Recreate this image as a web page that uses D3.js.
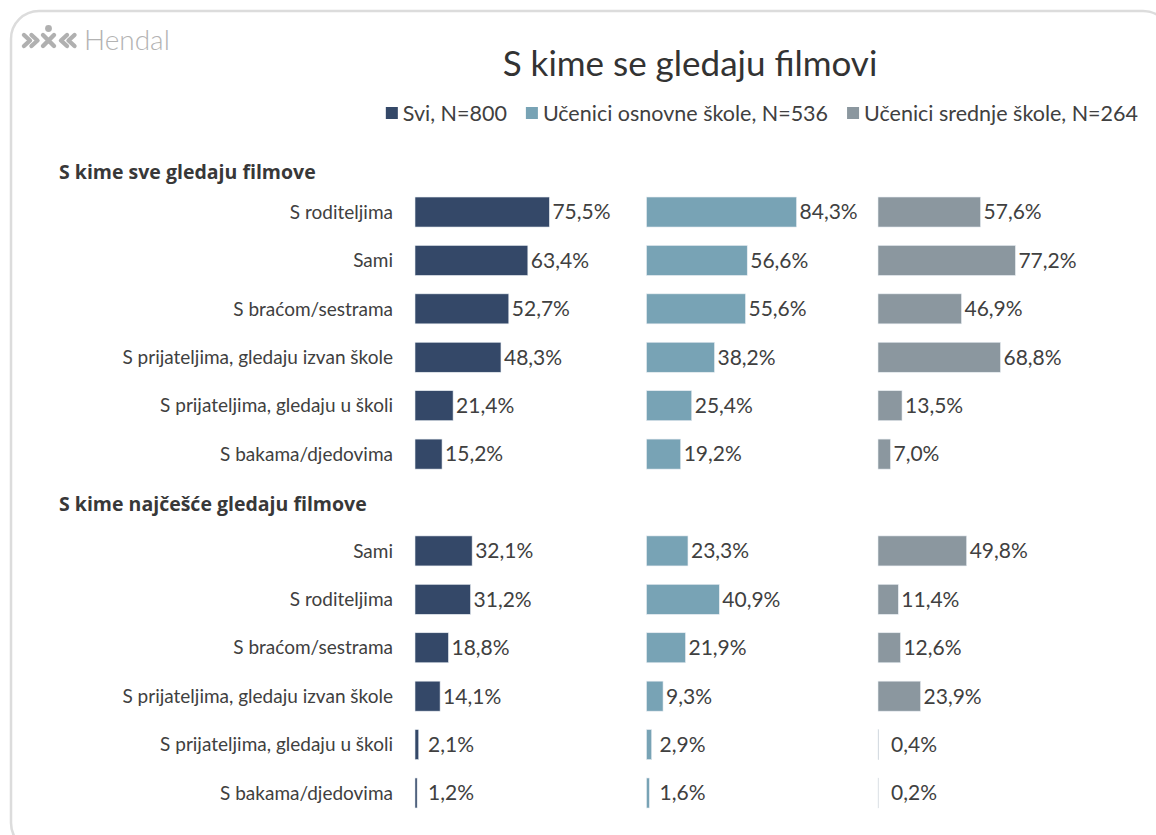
<!DOCTYPE html>
<head>
  <meta charset="utf-8">
  <script src="https://d3js.org/d3.v7.min.js"></script>
  <style>
    body { margin:0; background:#fff; }
    text { font-family: "Lato", sans-serif; }
  </style>
</head>
<body>
<script>

  // ---- data ----
  var seriesNames = ["Svi, N=800", "Učenici osnovne škole, N=536", "Učenici srednje škole, N=264"];
  var seriesColors = ["#344868", "#78a3b5", "#8b979f"];

  var sectionTitles = ["S kime sve gledaju filmove", "S kime najčešće gledaju filmove"];

  var catsAll = ["S roditeljima", "Sami", "S braćom/sestrama", "S prijateljima, gledaju izvan škole",
                 "S prijateljima, gledaju u školi", "S bakama/djedovima"];
  var svi1     = [75.5, 63.4, 52.7, 48.3, 21.4, 15.2];
  var osnovna1 = [84.3, 56.6, 55.6, 38.2, 25.4, 19.2];
  var srednja1 = [57.6, 77.2, 46.9, 68.8, 13.5, 7.0];

  var catsMost = ["Sami", "S roditeljima", "S braćom/sestrama", "S prijateljima, gledaju izvan škole",
                  "S prijateljima, gledaju u školi", "S bakama/djedovima"];
  var svi2     = [32.1, 31.2, 18.8, 14.1, 2.1, 1.2];
  var osnovna2 = [23.3, 40.9, 21.9, 9.3, 2.9, 1.6];
  var srednja2 = [49.8, 11.4, 12.6, 23.9, 0.4, 0.2];

  var width = 1156, height = 835;

  var svg = d3.select("body").append("svg")
    .attr("width", width)
    .attr("height", height);

  // frame
  svg.append("rect")
    .attr("x", 11).attr("y", 11)
    .attr("width", 1160).attr("height", 840)
    .attr("rx", 28).attr("ry", 28)
    .attr("fill", "none")
    .attr("stroke", "#dcdcdc")
    .attr("stroke-width", 2.5)

  // logo
  var logo = svg.append("g").attr("fill", "none").attr("stroke", "#b0b0b0")
    .attr("stroke-width", 4.4).attr("stroke-linecap", "round").attr("stroke-linejoin", "round")
  logo.append("path").attr("d", "M24,35 L30,40.5 L24,46 M31.5,35 L37.5,40.5 L31.5,46")
  logo.append("path").attr("d", "M43,35 L54,46 M54,35 L43,46")
  logo.append("path").attr("d", "M67,35 L61,40.5 L67,46 M74.5,35 L68.5,40.5 L74.5,46")
  svg.append("circle").attr("cx", 48.5).attr("cy", 28.5).attr("r", 3.4).attr("fill", "#b0b0b0")
  svg.append("text")
    .attr("x", 84).attr("y", 50)
    .attr("fill", "#b3b3b3")
    .style("font-size", "28px")
    .style("font-weight", 300)
    .text("Hendal")

  // title
  svg.append("text")
    .attr("x", 690).attr("y", 76)
    .attr("text-anchor", "middle")
    .attr("fill", "#333")
    .style("font-size", "35px")
    .text("S kime se gledaju filmovi")

  // legend, right aligned
  var legend = svg.append("g").attr("class", "legend")
  var lx = 1138
  for (var i = seriesNames.length - 1; i >= 0; i--) {
    var t = legend.append("text")
      .attr("y", 121)
      .attr("fill", "#404040")
      .style("font-size", "21.5px")
      .text(seriesNames[i])
    var w = t.node().getComputedTextLength()
    t.attr("x", lx - w)
    legend.append("rect")
      .attr("x", lx - w - 17).attr("y", 107)
      .attr("width", 12).attr("height", 12)
      .attr("fill", seriesColors[i])
    lx = lx - w - 17 - 19
  }

  // rows: header, 6 cats, header, 6 cats
  var rows = [];
  [[catsAll, [svi1, osnovna1, srednja1]], [catsMost, [svi2, osnovna2, srednja2]]].forEach(function(sec, s){
    rows.push({type: "header", label: sectionTitles[s], slot: rows.length, section: s})
    sec[0].forEach(function(c, j){
      rows.push({type: "row", label: c, slot: rows.length, values: sec[1].map(function(a){ return a[j] })})
    })
  })

  var y = d3.scaleBand()
    .domain(d3.range(rows.length))
    .range([139.4, 817.2])
    .paddingInner(0.38)
    .paddingOuter(0.19)

  var panel = d3.scaleBand()
    .domain(d3.range(seriesNames.length))
    .range([415, 1109.5])

  var x = d3.scaleLinear()
    .domain([0, 100])
    .range([0, 178])

  var fmt = function(v){ return d3.format(".1f")(v).replace(".", ",") + "%" }

  // section headers
  svg.selectAll(".header")
    .data(rows.filter(function(d){ return d.type == "header" }))
    .enter()
    .append("text")
    .attr("class", "header")
    .attr("x", 59)
    .attr("y", function(d){ return y(d.slot) + y.bandwidth()/2 + (d.section == 0 ? 15 : 8) })
    .attr("fill", "#383838")
    .style("font-family", "'Open Sans', sans-serif")
    .style("font-size", "19.5px")
    .style("font-weight", "bold")
    .text(function(d){ return d.label })

  var catRows = rows.filter(function(d){ return d.type == "row" })

  // category labels
  svg.selectAll(".cat")
    .data(catRows)
    .enter()
    .append("text")
    .attr("class", "cat")
    .attr("x", 393)
    .attr("y", function(d){ return y(d.slot) + y.bandwidth()/2 })
    .attr("dy", "0.35em")
    .attr("text-anchor", "end")
    .attr("fill", "#404040")
    .style("font-size", "19px")
    .text(function(d){ return d.label })

  var cells = [];
  catRows.forEach(function(r){
    r.values.forEach(function(v, k){ cells.push({slot: r.slot, s: k, v: v}) })
  })

  // value labels
  svg.selectAll(".val")
    .data(cells)
    .enter()
    .append("text")
    .attr("class", "val")
    .attr("x", function(d){ return panel(d.s) + Math.max(x(d.v) + 3, 13) })
    .attr("y", function(d){ return y(d.slot) + y.bandwidth()/2 })
    .attr("dy", "0.35em")
    .attr("fill", "#404040")
    .style("font-size", "21px")
    .text(function(d){ return fmt(d.v) })

  // bars
  svg.selectAll(".bar")
    .data(cells)
    .enter()
    .append("rect")
    .attr("class", "bar")
    .attr("x", function(d){ return panel(d.s) })
    .attr("y", function(d){ return y(d.slot) })
    .attr("width", function(d){ return x(d.v) })
    .attr("height", y.bandwidth())
    .attr("fill", function(d){ return seriesColors[d.s] })
    .attr("stroke", "#e8edf2")
    .attr("stroke-width", 0.6)

</script>
</body>
